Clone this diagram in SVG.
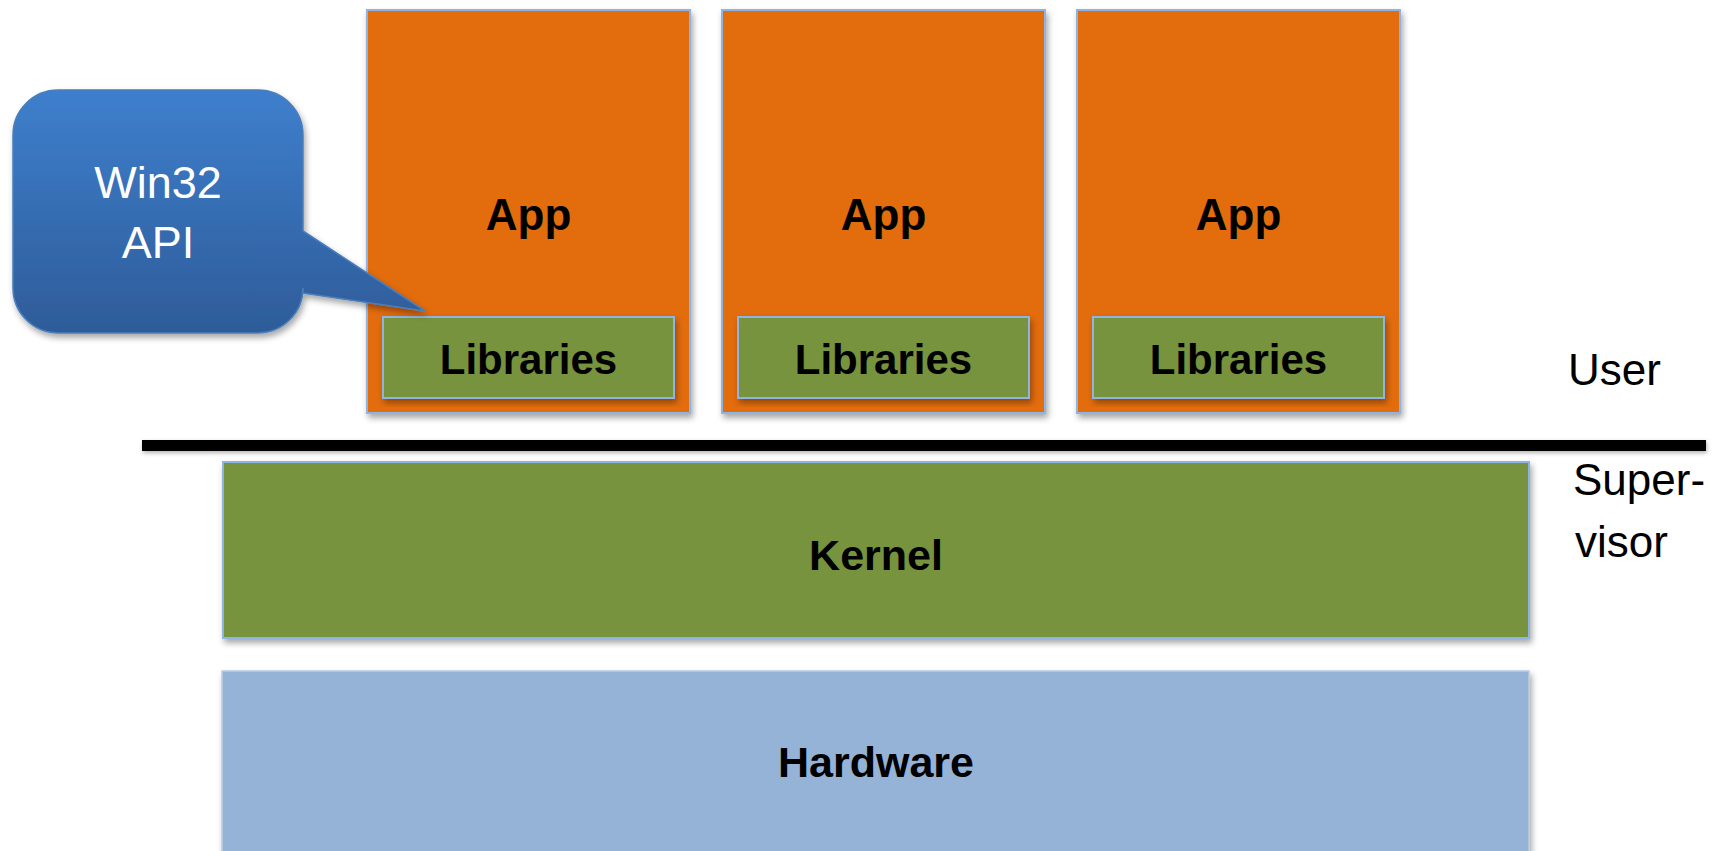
<svg xmlns="http://www.w3.org/2000/svg" width="1720" height="851" viewBox="0 0 1720 851">
<defs>
<filter id="sh" x="-5%" y="-5%" width="115%" height="115%">
<feDropShadow dx="2" dy="4" stdDeviation="3" flood-color="#000" flood-opacity="0.35"/>
</filter>
<filter id="shl" x="-2%" y="-50%" width="104%" height="250%">
<feDropShadow dx="1" dy="2" stdDeviation="2" flood-color="#000" flood-opacity="0.3"/>
</filter>
<linearGradient id="bg" x1="0" y1="0" x2="0" y2="1">
<stop offset="0" stop-color="#3e7fcd"/>
<stop offset="1" stop-color="#2e5c99"/>
</linearGradient>
<style>
.app{fill:#E36C0A;stroke:#8EB4E3;stroke-width:2;filter:url(#sh)}
.lib{fill:#77933C;stroke:#8EB4E3;stroke-width:2;filter:url(#sh)}
.hw{fill:#95B3D7;stroke:#B9CDE5;stroke-width:1.5;filter:url(#sh)}
.b{font-family:"Liberation Sans",Arial,sans-serif;font-weight:bold;fill:#000;text-anchor:middle}
.n{font-family:"Liberation Sans",Arial,sans-serif;fill:#000}
</style>
</defs>
<rect width="1720" height="851" fill="#fff"/>
<g id="app1">
<rect class="app" x="367" y="10" width="323" height="403"/>
<text class="b" x="528.5" y="230" font-size="44">App</text>
</g>
<g id="lib1">
<rect class="lib" x="383" y="317" width="291" height="81"/>
<text class="b" x="528.5" y="374" font-size="42">Libraries</text>
</g>
<g id="app2">
<rect class="app" x="722" y="10" width="323" height="403"/>
<text class="b" x="883.5" y="230" font-size="44">App</text>
</g>
<g id="lib2">
<rect class="lib" x="738" y="317" width="291" height="81"/>
<text class="b" x="883.5" y="374" font-size="42">Libraries</text>
</g>
<g id="app3">
<rect class="app" x="1077" y="10" width="323" height="403"/>
<text class="b" x="1238.5" y="230" font-size="44">App</text>
</g>
<g id="lib3">
<rect class="lib" x="1093" y="317" width="291" height="81"/>
<text class="b" x="1238.5" y="374" font-size="42">Libraries</text>
</g>
<g id="callout">
<path d="M58 90 H258 A45 45 0 0 1 303 135 V231 L425 311 L303 293 V288 A45 45 0 0 1 258 333 H58 A45 45 0 0 1 13 288 V135 A45 45 0 0 1 58 90 Z" fill="url(#bg)" stroke="#4a7ebb" stroke-width="1.5" filter="url(#sh)"/>
<text x="158" y="198" font-family="'Liberation Sans',Arial,sans-serif" font-size="45" fill="#fff" text-anchor="middle">Win32</text>
<text x="158" y="258" font-family="'Liberation Sans',Arial,sans-serif" font-size="45" fill="#fff" text-anchor="middle">API</text>
</g>
<g id="connectors">
<rect x="142" y="440" width="1564" height="11" fill="#000" filter="url(#shl)"/>
</g>
<g id="kernel">
<rect class="lib" x="223" y="462" width="1306" height="176"/>
<text class="b" x="876" y="570" font-size="43">Kernel</text>
</g>
<g id="hardware">
<rect class="hw" x="222" y="671" width="1307" height="190"/>
<text class="b" x="876" y="777" font-size="43">Hardware</text>
</g>
<g id="labels">
<text class="n" x="1568" y="385" font-size="44">User</text>
<text class="n" x="1573" y="495" font-size="44">Super-</text>
<text class="n" x="1575" y="557" font-size="44">visor</text>
</g>
</svg>
